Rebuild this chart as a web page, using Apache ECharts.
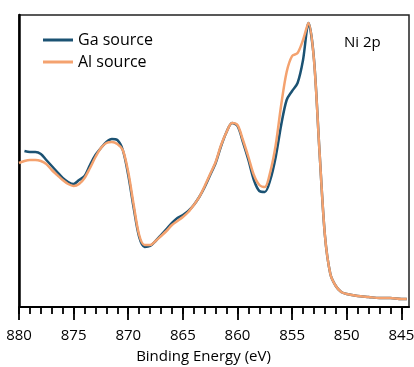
<!DOCTYPE html>
<html>
<head>
<meta charset="utf-8">
<script src="https://cdn.jsdelivr.net/npm/echarts@6/dist/echarts.min.js"></script>
<style>
  html, body { margin: 0; padding: 0; background: #fff; }
  #chart { width: 414px; height: 367px; }
</style>
</head>
<body>
<div id="chart"></div>
<script>
// binding energy (eV)
var energy = [880, 879.5, 879, 878.5, 878, 877.5, 877, 876.5, 876, 875.5, 875, 874.5, 874, 873.5, 873, 872.5,
  872, 871.5, 871, 870.5, 870, 869.5, 869, 868.5, 868, 867.5, 867, 866.5, 866, 865.5, 865, 864.5,
  864, 863.5, 863, 862.5, 862, 861.5, 861, 860.5, 860, 859.5, 859, 858.5, 858, 857.5, 857, 856.5,
  856, 855.5, 855, 854.5, 854, 853.5, 853, 852.5, 852, 851.5, 851, 850.5, 850, 849, 848, 847,
  846, 845, 844.5];
// intensity (a.u.)
var gaSource = [null, 156, 155, 155, 153, 147, 141, 135, 129, 125, 123, 127, 131, 142, 152, 159,
  165, 168, 167, 157, 132, 99, 70, 60, 61, 66, 72, 78, 84, 89, 92, 96,
  102, 110, 120, 132, 144, 161, 175, 184, 181, 165, 147, 127, 116, 115, 127, 150,
  182, 207, 216, 224, 247, 284, 248, 157, 72, 33, 21, 15, 13, 11, 10, 9,
  9, 8, 8];
var alSource = [144, 146, 147, 147, 146, 143, 137, 132, 127, 123, 121, 123, 129, 139, 150, 159,
  164, 165, 163, 157, 135, 102, 72, 62, 62, 66, 71, 76, 82, 86, 90, 95,
  102, 110, 121, 133, 145, 162, 175, 184, 182, 167, 150, 132, 122, 120, 135, 162,
  202, 235, 251, 254, 267, 284, 247, 157, 72, 33, 21, 15, 13, 11, 10, 9,
  9, 8, 8];
var majorTicks = [845, 850, 855, 860, 865, 870, 875, 880];
var minorTicks = [];
for (var t = 845; t <= 880; t++) minorTicks.push(t);

function pairs(ys) {
  return energy.map(function (x, i) { return [x, ys[i]]; });
}

var chart = echarts.init(document.getElementById('chart'));
chart.setOption({
  animation: false,
  textStyle: { fontFamily: 'Open Sans' },
  title: {
    text: 'Ni 2p',
    left: 344, top: 35, padding: 0,
    textStyle: { fontSize: 15, fontWeight: 'normal', color: '#000', fontFamily: 'Open Sans' }
  },
  legend: {
    orient: 'vertical',
    left: 43, top: 32,
    icon: 'rect',
    itemWidth: 30, itemHeight: 3, itemGap: 6,
    padding: 0,
    data: ['Ga source', 'Al source'],
    textStyle: { fontSize: 16, color: '#000', fontFamily: 'Open Sans' }
  },
  grid: {
    left: 19, right: 5, top: 15, bottom: 60,
    outerBoundsMode: 'none',
    containLabel: false,
    show: true, borderColor: '#222', borderWidth: 1.5
  },
  xAxis: [{
    type: 'value', min: 844.3, max: 880, inverse: true,
    position: 'bottom',
    name: 'Binding Energy (eV)', nameLocation: 'middle', nameGap: 42,
    nameTextStyle: { fontSize: 15, color: '#000', padding: [0, 21, 0, 0] },
    axisLine: { show: true, lineStyle: { color: '#000', width: 2 } },
    axisTick: { show: true, customValues: majorTicks, length: 13, lineStyle: { color: '#000', width: 1.8 } },
    axisLabel: { customValues: majorTicks, margin: 21, fontSize: 15, color: '#000' },
    splitLine: { show: false }
  }, {
    type: 'value', min: 844.3, max: 880, inverse: true,
    position: 'bottom', offset: 0,
    axisLine: { show: false },
    axisTick: { show: true, customValues: minorTicks, length: 7, lineStyle: { color: '#000', width: 1.8 } },
    axisLabel: { show: false },
    splitLine: { show: false }
  }],
  yAxis: {
    type: 'value', min: 0, max: 292,
    axisLine: { show: true, lineStyle: { color: '#000', width: 2.5 } },
    axisTick: { show: false },
    axisLabel: { show: false },
    splitLine: { show: false }
  },
  series: [{
    name: 'Ga source', type: 'line', symbol: 'none', smooth: 0.3,
    data: pairs(gaSource),
    lineStyle: { color: '#1b5273', width: 2.5 },
    itemStyle: { color: '#1b5273' }
  }, {
    name: 'Al source', type: 'line', symbol: 'none', smooth: 0.3,
    data: pairs(alSource),
    lineStyle: { color: '#f4a26f', width: 2.5 },
    itemStyle: { color: '#f4a26f' }
  }]
});
</script>
</body>
</html>
